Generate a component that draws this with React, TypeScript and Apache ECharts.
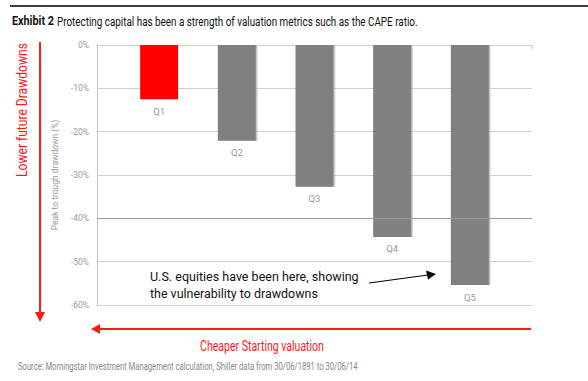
import React, { useEffect, useRef } from "react";
import * as echarts from "echarts";

const categories = ["Q1", "Q2", "Q3", "Q4", "Q5"];
const drawdowns = [-12.5, -22.1, -32.7, -44.3, -55.4];
const barColors = ["#ff0000", "#808080", "#808080", "#808080", "#808080"];
const yTicks = { min: -60, max: 0, interval: 10 };

const FONT = "Roboto, 'Liberation Sans', sans-serif";

function fitScale(text: string, size: number, weight: string, target: number) {
  const c = document.createElement("canvas").getContext("2d");
  if (!c) return 1;
  c.font = `${weight} ${size}px Roboto`;
  const w = c.measureText(text).width;
  return w > 0 ? target / w : 1;
}

export default function App() {
  const ref = useRef<HTMLDivElement>(null);
  useEffect(() => {
    document.body.style.margin = "0";
    const chart = echarts.init(ref.current!, null, { renderer: "svg" });
    const red = "#ff1a1a";

    const titleBold = "Exhibit 2";
    const titleRest = "Protecting capital has been a strength of valuation metrics such as the CAPE ratio.";
    const vText = "Lower future Drawdowns";
    const hText = "Cheaper Starting valuation";
    const ann1 = "U.S. equities have been here, showing";
    const ann2 = "the vulnerability to drawdowns";
    const src = "Source: Morningstar Investment Management calculation, Shiller data from 30/06/1891 to 30/06/14";

    const t = (text: string, x: number, y: number, size: number, fill: string, target: number, opts: any = {}) => ({
      type: "text",
      x,
      y,
      scaleX: fitScale(text, size, opts.weight || "normal", target),
      style: {
        text,
        fontSize: size,
        fontWeight: opts.weight || "normal",
        fill,
        fontFamily: FONT,
        align: opts.align || "left",
        verticalAlign: "middle",
      },
    });

    chart.setOption({
      animation: false,
      backgroundColor: "#fff",
      textStyle: { fontFamily: FONT },
      grid: { left: 97, right: 56, top: 45, bottom: 76 },
      xAxis: {
        type: "value",
        min: 0.2,
        max: 5.8,
        show: false,
      },
      yAxis: {
        type: "value",
        min: yTicks.min,
        max: yTicks.max,
        interval: yTicks.interval,
        name: "Peak to trough drawdown (%)",
        nameLocation: "middle",
        nameGap: 36,
        nameRotate: 90,
        nameTextStyle: { color: "#9a9a9a", fontSize: 8.5, fontFamily: FONT },
        axisLine: { show: true, lineStyle: { color: "#c0c0c0" } },
        axisTick: { show: false },
        axisLabel: { formatter: "{value}%", color: "#9a9a9a", fontSize: 8.5, margin: 8, fontFamily: FONT },
        splitLine: { lineStyle: { color: "#cfcfcf" } },
      },
      series: [
        {
          type: "bar",
          barWidth: 38,
          data: drawdowns.map((v, i) => ({
            value: [i + 1, v],
            itemStyle:
              i === 0
                ? { color: barColors[i] }
                : { color: barColors[i], shadowColor: "#bdbdbd", shadowOffsetX: 1.5, shadowBlur: 0 },
          })),
          label: {
            show: true,
            position: "bottom",
            distance: 7,
            color: "#9a9a9a",
            fontSize: 9.5,
            fontFamily: FONT,
            formatter: (p: any) => categories[p.dataIndex],
          },
          markLine: {
            silent: true,
            symbol: "none",
            label: { show: false },
            lineStyle: { color: "#999", type: "solid", width: 1 },
            data: [{ yAxis: -40 }],
          },
        },
      ],
      graphic: [
        { type: "line", shape: { x1: 10, y1: 6, x2: 588, y2: 6 }, style: { stroke: "#000", lineWidth: 1.5 } },
        t(titleBold, 12, 21, 13, "#111", 42, { weight: "bold" }),
        t(titleRest, 57, 21, 13, "#111", 361),
        // vertical red arrow
        { type: "line", shape: { x1: 40, y1: 42, x2: 40, y2: 316 }, style: { stroke: red, lineWidth: 2 } },
        { type: "polygon", shape: { points: [[35, 312], [45, 312], [40, 322]] }, style: { fill: red } },
        {
          type: "group",
          x: 22,
          y: 110,
          rotation: Math.PI / 2,
          children: [t(vText, 0, 0, 14, red, 134, { align: "center" })],
        },
        // small tick at top right of plot
        { type: "line", shape: { x1: 532, y1: 45, x2: 532, y2: 49 }, style: { stroke: "#c0c0c0", lineWidth: 1 } },
        // horizontal red arrow
        { type: "line", shape: { x1: 96, y1: 329, x2: 531, y2: 329 }, style: { stroke: red, lineWidth: 2 } },
        { type: "polygon", shape: { points: [[100, 324], [100, 334], [91, 329]] }, style: { fill: red } },
        t(hText, 262, 346, 14, red, 124, { align: "center" }),
        // annotation
        t(ann1, 150, 276, 13, "#111", 209),
        t(ann2, 150, 293, 13, "#111", 168),
        { type: "line", shape: { x1: 369, y1: 283, x2: 428, y2: 275 }, style: { stroke: "#000", lineWidth: 1.2 } },
        { type: "polygon", shape: { points: [[426, 270.5], [428, 279.5], [436, 274]] }, style: { fill: "#000" } },
        // source
        t(src, 18, 367, 10, "#888", 340),
      ],
    });
    return () => chart.dispose();
  }, []);
  return <div ref={ref} style={{ position: "absolute", left: 0, top: 0, width: 588, height: 381 }} />;
}
